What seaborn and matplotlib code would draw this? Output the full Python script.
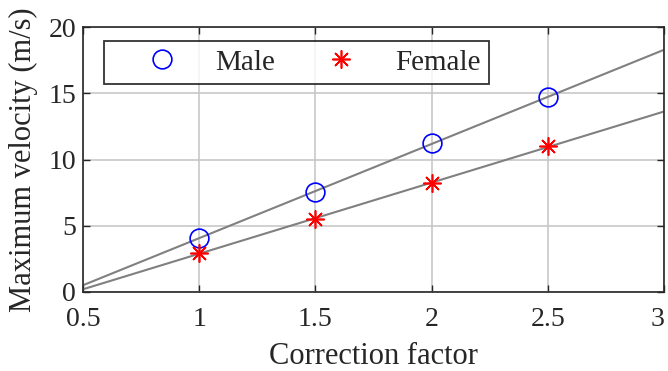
import numpy as np
import pandas as pd
import seaborn as sns
import matplotlib
matplotlib.use("Agg")
import matplotlib.pyplot as plt

# Measured maximum velocity per correction factor
correction = [1.0, 1.5, 2.0, 2.5]
male_velocity = [4.08, 7.55, 11.25, 14.7]
female_velocity = [2.95, 5.5, 8.2, 11.0]

x_ticks = [0.5, 1, 1.5, 2, 2.5, 3]
x_tick_labels = ["0.5", "1", "1.5", "2", "2.5", "3"]
y_ticks = [0, 5, 10, 15, 20]

sns.set_theme(style="white")
plt.rcParams["font.family"] = ["Liberation Serif", "DejaVu Serif"]

df = pd.DataFrame({
    "Correction factor": correction * 2,
    "Velocity": male_velocity + female_velocity,
    "Group": ["Male"] * 4 + ["Female"] * 4,
})

fig = plt.figure(figsize=(6.68, 3.71), dpi=100)
ax = fig.add_axes([0.124, 0.213, 0.870, 0.714])
ax.set_xlim(0.5, 3)
ax.set_ylim(0, 20)

# Least-squares fit lines, extended across the whole axis
for grp in ["Male", "Female"]:
    sub = df[df["Group"] == grp]
    sns.regplot(data=sub, x="Correction factor", y="Velocity", ax=ax,
                scatter=False, ci=None, truncate=False,
                line_kws=dict(color="#808080", lw=1.5, zorder=2))

male = df[df["Group"] == "Male"]
female = df[df["Group"] == "Female"]
ax.plot(male["Correction factor"], male["Velocity"], ls="none", marker="o",
        ms=13.5, mfc="none", mec="blue", mew=1.2, label="Male", zorder=3)
ax.plot(female["Correction factor"], female["Velocity"], ls="none",
        marker=(8, 2, 0), ms=13, mec="red", mfc="red", mew=1.2,
        label="Female", zorder=3)

ax.set_xlim(0.5, 3)
ax.set_ylim(0, 20)
ax.set_xticks(x_ticks)
ax.set_xticklabels(x_tick_labels)
ax.set_yticks(y_ticks)
ax.grid(True, color="#c8c8c8", lw=1.2)
ax.set_axisbelow(True)
for s in ax.spines.values():
    s.set_color("#262626")
    s.set_linewidth(1.2)
ax.tick_params(direction="in", length=5, width=1.0, colors="#262626",
               labelsize=20, labelcolor="#262626", top=True, right=True,
               bottom=True, left=True)
ax.tick_params(axis="y", pad=5)
ax.tick_params(axis="x", pad=11)
# keep the last x tick label inside the canvas
ax.get_xticklabels()[-1].set_horizontalalignment("right")
ax.set_xlabel("Correction factor", fontsize=22, color="#262626", labelpad=7)
ax.set_ylabel("Maximum velocity (m/s)", fontsize=22, color="#262626", labelpad=7)

leg = ax.legend(loc="upper left", bbox_to_anchor=(0.036, 0.947), ncol=2,
                fontsize=21, frameon=True, fancybox=False, edgecolor="black",
                handlelength=3.41, columnspacing=0.55, handletextpad=0.14,
                borderpad=0.28, borderaxespad=0)
leg.get_frame().set_linewidth(1.3)

fig.savefig("out.png", dpi=100, facecolor="white")
